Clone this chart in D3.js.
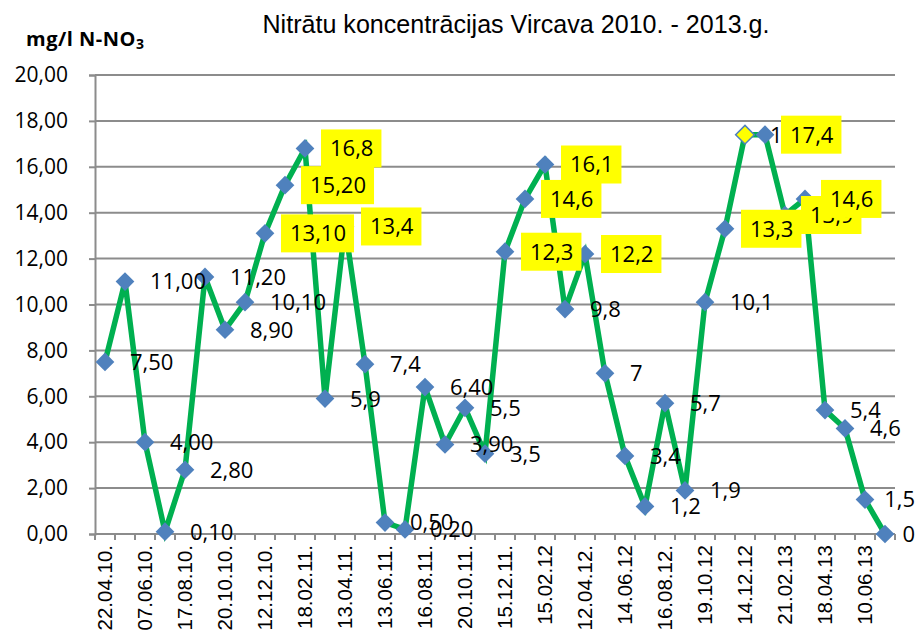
<!DOCTYPE html>
<html><head><meta charset="utf-8">
<script src="https://cdn.jsdelivr.net/npm/d3@7"></script>
<style>
html,body{margin:0;padding:0;background:#fff;}
svg{display:block;}
</style></head>
<body>
<svg id="chart" width="917" height="634"></svg>
<script>
// ---- data ----
const values = [7.5, 11.0, 4.0, 0.1, 2.8, 11.2, 8.9, 10.1, 13.1, 15.2,
                16.8, 5.9, 13.4, 7.4, 0.5, 0.2, 6.4, 3.9, 5.5, 3.5,
                12.3, 14.6, 16.1, 9.8, 12.2, 7.0, 3.4, 1.2, 5.7, 1.9,
                10.1, 13.3, 17.4, 17.4, 13.9, 14.6, 5.4, 4.6, 1.5, 0];
const valueLabels = ["7,50","11,00","4,00","0,10","2,80","11,20","8,90","10,10","13,10","15,20",
                     "16,8","5,9","13,4","7,4","0,50","0,20","6,40","3,90","5,5","3,5",
                     "12,3","14,6","16,1","9,8","12,2","7","3,4","1,2","5,7","1,9",
                     "10,1","13,3","17,4","17,4","13,9","14,6","5,4","4,6","1,5","0"];
const highlightedLabels = [8, 9, 10, 12, 20, 21, 22, 24, 31, 33, 34, 35];
const selectedPoint = 32;
const tickLabels = ["22.04.10.","07.06.10.","17.08.10.","20.10.10.","12.12.10.","18.02.11.","13.04.11.",
                    "13.06.11.","16.08.11.","20.10.11.","15.12.11.","15.02.12","12.04.12.","14.06.12",
                    "16.08.12.","19.10.12","14.12.12","21.02.13","18.04.13","10.06.13"];
const yTicks = [0, 2, 4, 6, 8, 10, 12, 14, 16, 18, 20];
const titleText = "Nitrātu koncentrācijas Vircava 2010. - 2013.g.";

// ---- layout ----
const svg = d3.select("#chart");
const W = 917;
const pLeft = 95, pRight = 895, pTop = 75, pBottom = 534;
const idx = d3.range(values.length);
const x = d3.scaleBand().domain(idx).range([pLeft, pRight]);
const cx = i => x(i) + x.bandwidth() / 2;
const y = d3.scaleLinear().domain([0, 20]).range([pBottom, pTop]);
const fmt = v => d3.format(".2f")(v).replace(".", ",");

const gridColor = "#8c8c8c";

// gridlines
svg.append("g").selectAll("line").data(yTicks).join("line")
  .attr("x1", pLeft).attr("x2", pRight)
  .attr("y1", d => y(d)).attr("y2", d => y(d))
  .attr("stroke", gridColor).attr("stroke-width", 2);

// y axis
const yAxis = d3.axisLeft(y).tickValues(yTicks).tickFormat(fmt).tickSize(6).tickPadding(6);
const gy = svg.append("g").attr("transform", `translate(${pLeft},0)`).call(yAxis);
gy.select(".domain").attr("stroke", gridColor).attr("stroke-width", 2);
gy.selectAll(".tick line").attr("stroke", gridColor).attr("stroke-width", 2);
gy.selectAll("text").attr("font-family", "'Open Sans', sans-serif").attr("font-size", 21)
  .attr("fill", "#000").attr("dx", -15);

// x axis ticks between categories
const boundaries = idx.map(i => x(i)).concat([pRight]);
svg.append("g").selectAll("line").data(boundaries).join("line")
  .attr("x1", d => d).attr("x2", d => d)
  .attr("y1", pBottom).attr("y2", pBottom + 6)
  .attr("stroke", gridColor).attr("stroke-width", 2);
svg.append("line").attr("x1", pLeft).attr("x2", pRight).attr("y1", pBottom).attr("y2", pBottom)
  .attr("stroke", gridColor).attr("stroke-width", 2);

// x tick labels (every other category)
svg.append("g").selectAll("text").data(tickLabels).join("text")
  .attr("transform", (d, k) => `translate(${cx(k * 2)},${pBottom + 11}) rotate(-90)`)
  .attr("text-anchor", "end").attr("dy", "0.36em")
  .attr("font-family", "'Liberation Sans', Arial, sans-serif").attr("font-size", 20.5)
  .attr("fill", "#000").text(d => d);

// line
const line = d3.line().x(i => cx(i)).y(i => y(values[i]));
svg.append("path").datum(idx).attr("d", line)
  .attr("fill", "none").attr("stroke", "#00B050").attr("stroke-width", 5.5)
  .attr("stroke-linejoin", "miter");

// markers
svg.append("g").selectAll("path").data(idx).join("path")
  .attr("transform", i => `translate(${cx(i)},${y(values[i])}) rotate(45)`)
  .attr("d", d3.symbol().type(d3.symbolSquare).size(175))
  .attr("fill", i => i === selectedPoint ? "#FFFF00" : "#4F81BD")
  .attr("stroke", "#4F81BD").attr("stroke-width", i => i === selectedPoint ? 1.5 : 0);

// data labels
const lg = svg.append("g");
idx.forEach(i => {
  const py = y(values[i]);
  const t = lg.append("text").attr("y", py).attr("dy", "0.36em")
    .attr("font-family", "'Open Sans', sans-serif").attr("font-size", 22).attr("fill", "#000")
    .text(valueLabels[i]);
  const w = t.node().getComputedTextLength();
  const px = Math.min(cx(i) + 25, W - 2 - w);
  t.attr("x", px);
  if (highlightedLabels.includes(i)) {
    lg.insert("rect", () => t.node())
      .attr("x", px - 9).attr("y", py - 19).attr("width", w + 17).attr("height", 38)
      .attr("fill", "#FFFF00");
  }
});

// title
svg.append("text").attr("x", 516).attr("y", 33).attr("text-anchor", "middle")
  .attr("font-family", "'Liberation Sans', Arial, sans-serif").attr("font-size", 25)
  .attr("textLength", 507).attr("lengthAdjust", "spacingAndGlyphs")
  .attr("fill", "#000").text(titleText);

// y axis title
const yt = svg.append("text").attr("x", 26).attr("y", 46)
  .attr("font-family", "'Open Sans', sans-serif").attr("font-weight", "bold").attr("font-size", 20)
  .attr("letter-spacing", 0.5).attr("fill", "#000");
yt.append("tspan").text("mg/l N-NO");
yt.append("tspan").attr("font-size", 14).attr("dy", 3).text("3");
</script>
</body></html>
